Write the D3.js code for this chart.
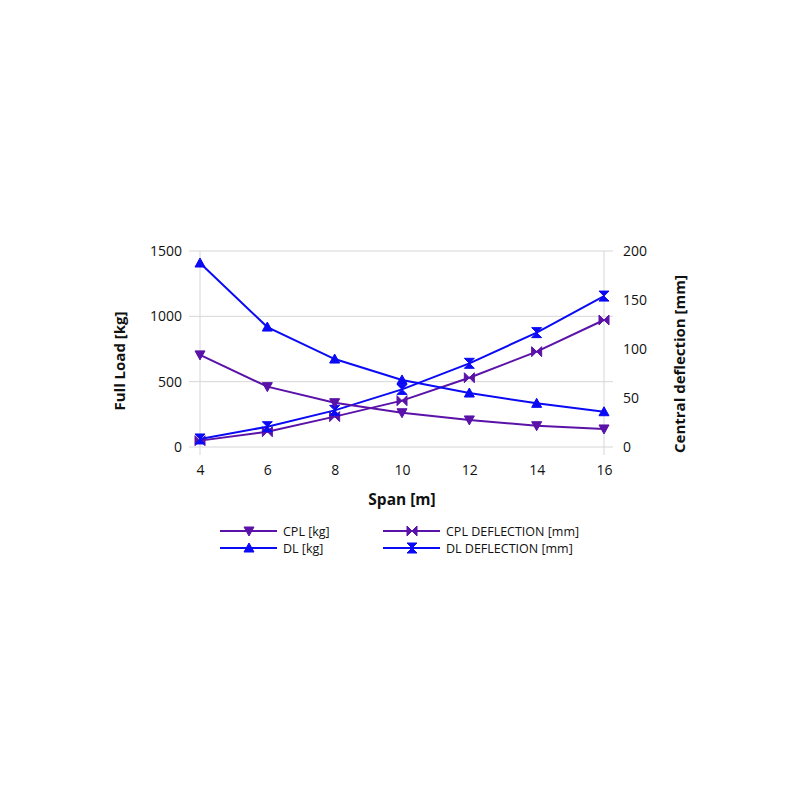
<!doctype html>
<html>
<head>
<meta charset="utf-8">
<script src="https://cdn.jsdelivr.net/npm/d3@7"></script>
<style>
    html, body { margin: 0; padding: 0; background: #fff; }
    #viz { width: 800px; height: 800px; }
    text { font-family: "Open Sans", "Noto Sans", sans-serif; fill: #111; }
</style>
</head>
<body>
<div id="viz"></div>
<script>
    // chart data
    var spans = [4, 6, 8, 10, 12, 14, 16];
    var cplKg = [705, 462, 339, 262, 207, 163, 138];
    var dlKg = [1408, 918, 673, 513, 413, 334, 270];
    var cplDeflection = [6.5, 15.6, 31, 47.3, 70.7, 97.3, 129.6];
    var dlDeflection = [8.2, 20.7, 37.4, 58.8, 85.4, 116.7, 154];
    var leftTicks = [0, 500, 1000, 1500];
    var rightTicks = [0, 50, 100, 150, 200];
    var xTicks = [4, 6, 8, 10, 12, 14, 16];

    var purple = "#5a12a8";
    var blue = "#0a0af5";

    var series = [
        { name: "CPL [kg]", values: cplKg, axis: "left", color: purple, marker: "down" },
        { name: "DL [kg]", values: dlKg, axis: "left", color: blue, marker: "up" },
        { name: "CPL DEFLECTION [mm]", values: cplDeflection, axis: "right", color: purple, marker: "bowtieH" },
        { name: "DL DEFLECTION [mm]", values: dlDeflection, axis: "right", color: blue, marker: "bowtieV" }
    ];

    var W = 800, H = 800;
    var plot = { left: 200, right: 604, top: 251, bottom: 447 };

    var svg = d3.select("#viz").append("svg")
        .attr("width", W)
        .attr("height", H);

    var x = d3.scaleLinear().domain([4, 16]).range([plot.left, plot.right]);
    var yL = d3.scaleLinear().domain([0, 1500]).range([plot.bottom, plot.top]);
    var yR = d3.scaleLinear().domain([0, 200]).range([plot.bottom, plot.top]);

    // horizontal grid
    svg.append("g").selectAll("line")
        .data(leftTicks)
        .enter().append("line")
        .attr("x1", plot.left - 11)
        .attr("x2", plot.right + 9)
        .attr("y1", function (d) { return yL(d); })
        .attr("y2", function (d) { return yL(d); })
        .attr("stroke", "#d6d6d6")
        .attr("stroke-width", 1);

    // vertical edges
    svg.append("g").selectAll("line")
        .data([4, 16])
        .enter().append("line")
        .attr("x1", function (d) { return x(d); })
        .attr("x2", function (d) { return x(d); })
        .attr("y1", plot.top)
        .attr("y2", plot.bottom + 8)
        .attr("stroke", "#d6d6d6")
        .attr("stroke-width", 1);

    // axes (labels only)
    var leftAxis = d3.axisLeft(yL).tickValues(leftTicks).tickFormat(d3.format("d")).tickSize(0).tickPadding(18);
    var gl = svg.append("g").attr("transform", "translate(" + plot.left + ",0)").call(leftAxis);
    gl.select(".domain").remove();
    gl.selectAll("text").style("font-size", "14px").attr("fill", "#111");

    var rightAxis = d3.axisRight(yR).tickValues(rightTicks).tickFormat(d3.format("d")).tickSize(0).tickPadding(19);
    var gr = svg.append("g").attr("transform", "translate(" + plot.right + ",0)").call(rightAxis);
    gr.select(".domain").remove();
    gr.selectAll("text").style("font-size", "14px").attr("fill", "#111");

    var bottomAxis = d3.axisBottom(x).tickValues(xTicks).tickSize(0).tickPadding(18);
    var gb = svg.append("g").attr("transform", "translate(0," + plot.bottom + ")").call(bottomAxis);
    gb.select(".domain").remove();
    gb.selectAll("text").style("font-size", "14px").attr("fill", "#111");

    // axis titles
    svg.append("text")
        .attr("transform", "translate(125," + ((plot.top + plot.bottom) / 2 + 12) + ") rotate(-90)")
        .attr("text-anchor", "middle")
        .style("font-size", "15px")
        .style("font-weight", "bold")
        .text("Full Load [kg]");

    svg.append("text")
        .attr("transform", "translate(685," + ((plot.top + plot.bottom) / 2 + 15) + ") rotate(-90)")
        .attr("text-anchor", "middle")
        .style("font-size", "15px")
        .style("font-weight", "bold")
        .text("Central deflection [mm]");

    svg.append("text")
        .attr("x", (plot.left + plot.right) / 2)
        .attr("y", 505)
        .attr("text-anchor", "middle")
        .style("font-size", "15.5px")
        .style("font-weight", "bold")
        .text("Span [m]");

    // marker shapes
    var markerPath = function (type) {
        var s = 5;
        if (type === "up") return "M0," + (-s) + "L" + s + "," + (s - 1) + "L" + (-s) + "," + (s - 1) + "Z";
        if (type === "down") return "M0," + s + "L" + s + "," + (-s + 1) + "L" + (-s) + "," + (-s + 1) + "Z";
        if (type === "bowtieV") return "M" + (-s) + "," + (-s) + "L" + s + "," + (-s) + "L" + (-s) + "," + s + "L" + s + "," + s + "Z";
        return "M" + (-s) + "," + (-s) + "L" + (-s) + "," + s + "L" + s + "," + (-s) + "L" + s + "," + s + "Z";
    };

    var drawSeries = function (sr) {
        var yScale = sr.axis === "left" ? yL : yR;
        var pts = sr.values.map(function (v, i) { return [spans[i], v]; });
        var line = d3.line()
            .x(function (d) { return x(d[0]); })
            .y(function (d) { return yScale(d[1]); });

        svg.append("path")
            .datum(pts)
            .attr("d", line)
            .attr("fill", "none")
            .attr("stroke", sr.color)
            .attr("stroke-width", 2);

        svg.append("g").selectAll("path")
            .data(pts)
            .enter().append("path")
            .attr("transform", function (d) { return "translate(" + x(d[0]) + "," + yScale(d[1]) + ")"; })
            .attr("d", markerPath(sr.marker))
            .attr("fill", sr.color)
            .attr("stroke", sr.color)
            .attr("stroke-width", 1);
    };

    // draw deflection lines first, loads on top
    [series[2], series[3], series[0], series[1]].forEach(drawSeries);

    // legend
    var legendPos = [
        { x: 220, y: 531 },
        { x: 220, y: 548 },
        { x: 383, y: 531 },
        { x: 383, y: 548 }
    ];
    var lg = svg.append("g").selectAll("g")
        .data(series)
        .enter().append("g")
        .attr("transform", function (d, i) { return "translate(" + legendPos[i].x + "," + legendPos[i].y + ")"; });

    lg.append("line")
        .attr("x1", 0).attr("x2", 57)
        .attr("y1", 0).attr("y2", 0)
        .attr("stroke", function (d) { return d.color; })
        .attr("stroke-width", 2);

    lg.append("path")
        .attr("transform", "translate(29,0)")
        .attr("d", function (d) { return markerPath(d.marker); })
        .attr("fill", function (d) { return d.color; })
        .attr("stroke", function (d) { return d.color; });

    lg.append("text")
        .attr("x", 63)
        .attr("y", 4.5)
        .style("font-size", "12.5px")
        .text(function (d) { return d.name; });
</script>
</body>
</html>
